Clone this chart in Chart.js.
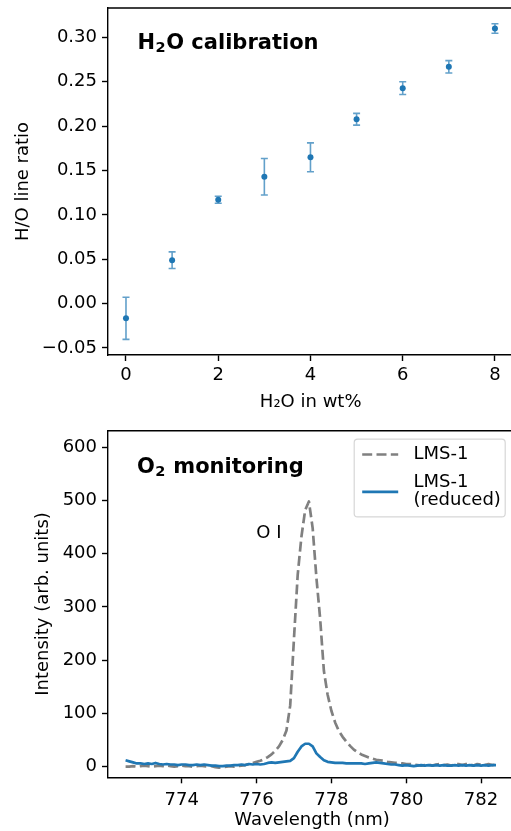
<!DOCTYPE html>
<html><head><meta charset="utf-8">
<script src="https://cdn.jsdelivr.net/npm/chart.js@4.4.0/dist/chart.umd.min.js"></script>
<style>
html,body{margin:0;padding:0;background:#fff;overflow:hidden;width:511px;height:831px;position:relative;}
#c1{position:absolute;left:0;top:0;}
#c2{position:absolute;left:0;top:415px;}
</style></head><body>
<canvas id="c1" width="520" height="415"></canvas>
<canvas id="c2" width="520" height="416"></canvas>
<script>
// ---- Top panel data: H2O calibration ----
const h2oWt = [0, 1, 2, 3, 4, 5, 6, 7, 8];
const lineRatio = [-0.0166, 0.0489, 0.117, 0.1429, 0.1648, 0.2077, 0.2427, 0.2667, 0.3099];
const ratioErr = [0.0237, 0.0094, 0.004, 0.0205, 0.0163, 0.0066, 0.0072, 0.007, 0.0054];
const topXTicks = [0, 2, 4, 6, 8];
const topYTicks = [-0.05, 0, 0.05, 0.10, 0.15, 0.20, 0.25, 0.30];

// ---- Bottom panel data: O2 monitoring ----
const wavelength = [
 772.5,772.6,772.7,772.8,772.9,773.0,773.1,773.2,773.3,773.4,
 773.5,773.6,773.7,773.8,773.9,774.0,774.1,774.2,774.3,774.4,
 774.5,774.6,774.7,774.8,774.9,775.0,775.1,775.2,775.3,775.4,
 775.5,775.6,775.7,775.8,775.9,776.0,776.1,776.2,776.3,776.4,
 776.5,776.6,776.7,776.8,776.9,777.0,777.1,777.2,777.3,777.4,
 777.5,777.6,777.7,777.8,777.9,778.0,778.1,778.2,778.3,778.4,
 778.5,778.6,778.7,778.8,778.9,779.0,779.1,779.2,779.3,779.4,
 779.5,779.6,779.7,779.8,779.9,780.0,780.1,780.2,780.3,780.4,
 780.5,780.6,780.7,780.8,780.9,781.0,781.1,781.2,781.3,781.4,
 781.5,781.6,781.7,781.8,781.9,782.0,782.1,782.2,782.3,782.4];
const lms1 = [
 0,0,1,0,1,2,1,0,1,2,
 1,2,1,0,1,2,1,1,0,1,
 2,1,0,1,-1,-2,-1,0,1,0,
 1,2,3,5,7,9,11,14,18,23,
 30,38,50,68,115,240,360,432,482,498,
 448,355,278,180,135,105,83,67,56,47,
 39,32,27,23,20,17,15,13,12,11,
 9,8,7,7,6,5,5,4,3,2,
 3,4,2,4,5,3,4,2,4,5,
 3,5,4,2,5,4,3,5,3,4];
const lms1Reduced = [
 12,10,8,6,6,5,6,5,7,5,
 4,5,4,4,3,4,4,3,3,4,
 3,4,3,2,2,1,1,2,2,3,
 3,4,3,5,4,5,4,5,7,8,
 7,8,9,10,11,16,28,38,43,43,
 38,25,18,12,9,8,7,7,7,6,
 6,6,6,6,5,6,7,8,7,6,
 5,4,4,3,2,3,2,1,2,3,
 2,3,2,3,2,3,2,2,3,2,
 3,2,3,2,3,2,3,2,3,3];
const botXTicks = [774, 776, 778, 780, 782];
const botYTicks = [0, 100, 200, 300, 400, 500, 600];
const annotations = [{text: 'O I', x: 776.33, y: 438}];

Chart.defaults.font.family = "'DejaVu Sans'";
Chart.defaults.font.size = 18;
Chart.defaults.color = '#000';

const BLUE = '#1f77b4';
const GRAY = '#808080';
const SPINE = 1.4;

function axis(opts) {
  return {
    type: 'linear',
    min: opts.min, max: opts.max,
    afterBuildTicks: s => { s.ticks = opts.ticks.map(v => ({value: v})); },
    afterFit: s => {
      if (opts.isY) { s.width = opts.size; s.paddingTop = 0; s.paddingBottom = 0; }
      else { s.height = opts.size; s.paddingLeft = 0; s.paddingRight = 0; }
    },
    grid: {display: true, drawOnChartArea: false, drawTicks: true, tickLength: 6, tickWidth: SPINE, tickColor: '#000'},
    border: {display: true, color: '#000', width: SPINE},
    ticks: {color: '#000', font: {size: 18}, padding: opts.tickPad, callback: opts.fmt, maxRotation: 0, autoSkip: false},
    title: {display: true, text: opts.title, color: '#000', font: {size: 18}, padding: opts.titlePad}
  };
}

const framePlugin = {
  id: 'frame',
  afterDraw(chart) {
    const {ctx, chartArea: a} = chart;
    ctx.save();
    ctx.strokeStyle = '#000'; ctx.lineWidth = SPINE;
    ctx.beginPath();
    ctx.moveTo(a.left, a.top); ctx.lineTo(a.right, a.top); ctx.lineTo(a.right, a.bottom);
    ctx.stroke();
    ctx.restore();
  }
};

function drawTitle(ctx, x, y, pre, sub, post) {
  ctx.save();
  ctx.fillStyle = '#000';
  ctx.textBaseline = 'alphabetic';
  ctx.textAlign = 'left';
  ctx.font = "bold 21px 'DejaVu Sans'";
  ctx.fillText(pre, x, y);
  x += ctx.measureText(pre).width;
  ctx.font = "bold 14.5px 'DejaVu Sans'";
  ctx.fillText(sub, x + 0.5, y + 2.5);
  x += ctx.measureText(sub).width + 1;
  ctx.font = "bold 21px 'DejaVu Sans'";
  ctx.fillText(post, x, y);
  ctx.restore();
}

const errPlugin = {
  id: 'err',
  beforeDatasetsDraw(chart) {
    const {ctx, scales: {x, y}} = chart;
    ctx.save();
    ctx.strokeStyle = 'rgba(31,119,180,0.7)';
    ctx.lineWidth = 1.6;
    h2oWt.forEach((w, i) => {
      const px = x.getPixelForValue(w);
      const y1 = y.getPixelForValue(lineRatio[i] - ratioErr[i]);
      const y2 = y.getPixelForValue(lineRatio[i] + ratioErr[i]);
      ctx.beginPath();
      ctx.moveTo(px, y1); ctx.lineTo(px, y2);
      ctx.moveTo(px - 3.5, y1); ctx.lineTo(px + 3.5, y1);
      ctx.moveTo(px - 3.5, y2); ctx.lineTo(px + 3.5, y2);
      ctx.stroke();
    });
    ctx.restore();
  }
};

const topTitlePlugin = {
  id: 'ttitle',
  afterDraw(chart) {
    const a = chart.chartArea;
    drawTitle(chart.ctx, a.left + 29.5, a.top + 41.3, 'H', '2', 'O calibration');
  }
};

const fmt2 = v => (v < 0 ? '\u2212' : '') + Math.abs(v).toFixed(2);

new Chart(document.getElementById('c1'), {
  type: 'scatter',
  data: {datasets: [{
    label: 'H/O',
    data: h2oWt.map((w, i) => ({x: w, y: lineRatio[i]})),
    backgroundColor: BLUE, borderWidth: 0, pointRadius: 3, pointHoverRadius: 3
  }]},
  options: {
    responsive: false, animation: false, devicePixelRatio: 1,
    layout: {padding: {left: 0, top: 8, right: 6.6, bottom: 0}},
    plugins: {legend: {display: false}, tooltip: {enabled: false}},
    scales: {
      x: axis({min: -0.39, max: 8.4, ticks: topXTicks, isY: false, size: 60, tickPad: 4,
               fmt: v => String(v), title: 'H\u2082O in wt%', titlePad: {top: 0, bottom: 1.5}}),
      y: axis({min: -0.0579, max: 0.333, ticks: topYTicks, isY: true, size: 108, tickPad: 5,
               fmt: fmt2, title: 'H/O line ratio', titlePad: {top: 13, bottom: 0}})
    }
  },
  plugins: [errPlugin, framePlugin, topTitlePlugin]
});

const botPlugin = {
  id: 'bot',
  afterDraw(chart) {
    const {ctx, chartArea: a, scales: {x, y}} = chart;
    drawTitle(ctx, a.left + 29, a.top + 42.6, 'O', '2', ' monitoring');
    ctx.save();
    ctx.fillStyle = '#000';
    ctx.font = "18px 'DejaVu Sans'";
    ctx.textAlign = 'center'; ctx.textBaseline = 'middle';
    annotations.forEach(an => ctx.fillText(an.text, x.getPixelForValue(an.x), y.getPixelForValue(an.y)));
    // legend
    const bw = 151, bh = 77.7;
    const bx = a.right - 11 - bw, by = a.top + 8.5;
    ctx.beginPath();
    if (ctx.roundRect) ctx.roundRect(bx, by, bw, bh, 3.5); else ctx.rect(bx, by, bw, bh);
    ctx.fillStyle = 'rgba(255,255,255,0.8)'; ctx.fill();
    ctx.strokeStyle = 'rgba(204,204,204,0.8)'; ctx.lineWidth = 1.2; ctx.stroke();
    const ds = chart.data.datasets;
    const rows = [{ly: 15.3, ty: [15.3]}, {ly: 52.7, ty: [42.7, 61]}];
    ds.forEach((d, i) => {
      const r = rows[i];
      ctx.beginPath();
      ctx.setLineDash(d.borderDash || []);
      ctx.strokeStyle = d.borderColor; ctx.lineWidth = d.borderWidth;
      ctx.moveTo(bx + 8, by + r.ly); ctx.lineTo(bx + 44, by + r.ly);
      ctx.stroke();
      ctx.setLineDash([]);
      ctx.fillStyle = '#000'; ctx.textAlign = 'left'; ctx.textBaseline = 'middle';
      d.label.split('\n').forEach((t, k) => ctx.fillText(t, bx + 59.3, by + r.ty[k]));
    });
    ctx.restore();
  }
};

new Chart(document.getElementById('c2'), {
  type: 'line',
  data: {datasets: [
    {label: 'LMS-1', data: wavelength.map((w, i) => ({x: w, y: lms1[i]})),
     borderColor: GRAY, borderDash: [10, 4.3], borderWidth: 2.7, pointRadius: 0, tension: 0,
     borderJoinStyle: 'round', fill: false, order: 1},
    {label: 'LMS-1\n(reduced)', data: wavelength.map((w, i) => ({x: w, y: lms1Reduced[i]})),
     borderColor: BLUE, borderWidth: 2.7, pointRadius: 0, tension: 0,
     borderJoinStyle: 'round', fill: false, order: 0}
  ]},
  options: {
    responsive: false, animation: false, devicePixelRatio: 1,
    layout: {padding: {left: 0, top: 15.7, right: 3.8, bottom: 0}},
    plugins: {legend: {display: false}, tooltip: {enabled: false}},
    scales: {
      x: axis({min: 772.03, max: 782.94, ticks: botXTicks, isY: false, size: 53.7, tickPad: 6,
               fmt: v => String(v), title: 'Wavelength (nm)', titlePad: {top: 0, bottom: 0}}),
      y: axis({min: -20, max: 631, ticks: botYTicks, isY: true, size: 108, tickPad: 5,
               fmt: v => String(v), title: 'Intensity (arb. units)', titlePad: {top: 32.7, bottom: 0}})
    }
  },
  plugins: [framePlugin, botPlugin]
});
</script>
</body></html>
